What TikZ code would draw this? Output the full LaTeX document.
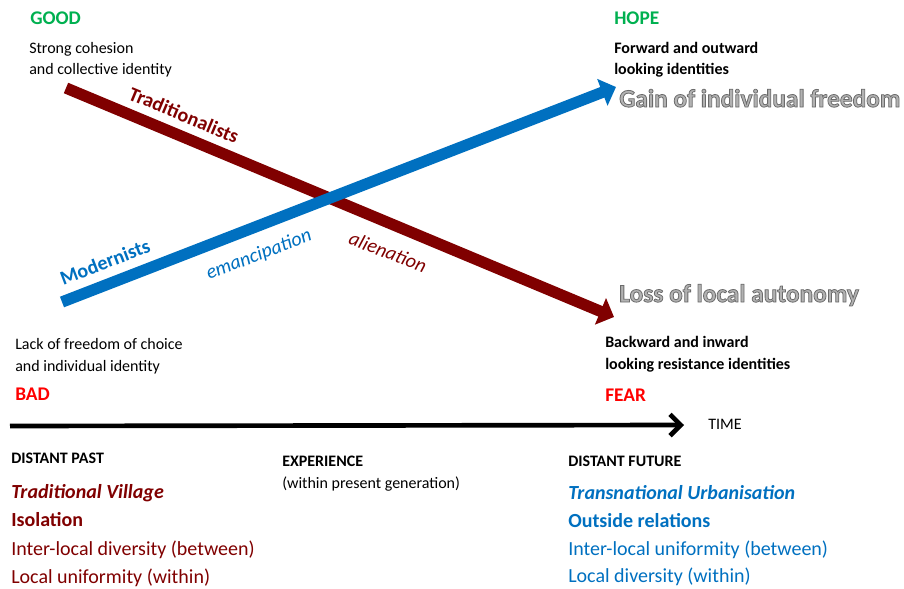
\documentclass[tikz,border=0pt]{standalone}
\usepackage{fontspec}
\setmainfont{Carlito}
\usetikzlibrary{arrows.meta}

\definecolor{darkred}{RGB}{128,0,0}
\definecolor{modblue}{RGB}{0,112,192}
\definecolor{goodgreen}{RGB}{0,176,80}
\definecolor{fearred}{RGB}{255,0,0}
\definecolor{facegray}{RGB}{178,178,178}

% grey lettering, filled and stroked with a darker rim
\newcommand{\outlined}[1]{%
	{\color{facegray}\special{pdf:literal direct 0.42 G 2 Tr 0.6 w}#1\special{pdf:literal direct 0 Tr}}}

\begin{document}
\begin{tikzpicture}[
		x=0.75pt, y=-0.75pt,
		txt/.style={anchor=base west, inner sep=0pt, font=\fontsize{12}{14}\selectfont},
		boldtxt/.style={txt, font=\fontsize{12}{14}\selectfont\bfseries},
		mood/.style={anchor=base west, inner sep=0pt, font=\fontsize{14.5}{17}\selectfont\bfseries},
		outcome/.style={anchor=base west, inner sep=0pt, font=\fontsize{19}{22}\selectfont\bfseries},
		era/.style={anchor=base west, inner sep=0pt, font=\fontsize{15}{18}\selectfont},
		trend/.style={line width=8.5pt, -{Triangle[length=11pt, width=21pt]}},
		tag/.style={inner sep=0pt, font=\fontsize{15}{18}\selectfont}
		]
		\useasboundingbox (0,0) rectangle (904,589);
		
		% Upper left and upper right
		\node (good) [mood, text=goodgreen] at (30,24) {GOOD};
		\node (good1) [txt] at (29,53) {Strong cohesion};
		\node (good2) [txt] at (29,74) {and collective identity};
		\node (hope) [mood, text=goodgreen] at (614,25) {HOPE};
		\node (hope1) [boldtxt] at (614,53) {Forward and outward};
		\node (hope2) [boldtxt] at (614,74) {looking identities};
		\node (gain) [outcome] at (619,107) {\outlined{Gain of individual freedom}};
		
		% Lower left and lower right
		\node (loss) [outcome] at (619,302) {\outlined{Loss of local autonomy}};
		\node (fear1) [boldtxt] at (605,347) {Backward and inward};
		\node (fear2) [boldtxt] at (605,369) {looking resistance identities};
		\node (fear) [mood, text=fearred] at (605,401) {FEAR};
		\node (bad1) [txt] at (15,349) {Lack of freedom of choice};
		\node (bad2) [txt] at (15,371) {and individual identity};
		\node (bad) [mood, text=fearred] at (15,400) {BAD};
		
		% Crossing trends
		\coordinate (tstart) at (66,88);
		\coordinate (tend) at (614,317);
		\coordinate (mstart) at (62,302);
		\coordinate (mend) at (616,87);
		\draw [trend, darkred] (tstart) -- (tend);
		\draw [trend, modblue] (mstart) -- (mend);
		\node (trad) [tag, text=darkred, font=\fontsize{15}{18}\selectfont\bfseries, rotate=-22.6] at (184,115) {Traditionalists};
		\node (alien) [tag, text=darkred, font=\fontsize{15}{18}\selectfont\itshape, rotate=-21] at (388,252) {alienation};
		\node (mod) [tag, text=modblue, font=\fontsize{15}{18}\selectfont\bfseries, rotate=21] at (105,262) {Modernists};
		\node (eman) [tag, text=modblue, font=\fontsize{15}{18}\selectfont\itshape, rotate=21] at (259,255) {emancipation};
		
		% Time axis
		\coordinate (t0) at (10,426);
		\coordinate (t1) at (684,425);
		\draw [line width=3.5pt, -{Straight Barb[length=8pt, width=16pt]}] (t0) -- (t1);
		\node (time) [txt] at (708,429) {TIME};
		
		% Columns below the axis
		\node (past) [boldtxt] at (11,463) {DISTANT PAST};
		\node (past1) [era, text=darkred, font=\fontsize{15}{18}\selectfont\bfseries\itshape] at (11,498) {Traditional Village};
		\node (past2) [era, text=darkred, font=\fontsize{15}{18}\selectfont\bfseries] at (11,526) {Isolation};
		\node (past3) [era, text=darkred] at (11,555) {Inter-local diversity (between)};
		\node (past4) [era, text=darkred] at (11,583) {Local uniformity (within)};
		\node (exp) [boldtxt] at (282,466) {EXPERIENCE};
		\node (exp1) [txt] at (282,488) {(within present generation)};
		\node (fut) [boldtxt] at (568,466) {DISTANT FUTURE};
		\node (fut1) [era, text=modblue, font=\fontsize{15}{18}\selectfont\bfseries\itshape] at (568,499) {Transnational Urbanisation};
		\node (fut2) [era, text=modblue, font=\fontsize{15}{18}\selectfont\bfseries] at (568,527) {Outside relations};
		\node (fut3) [era, text=modblue] at (568,555) {Inter-local uniformity (between)};
		\node (fut4) [era, text=modblue] at (568,582) {Local diversity (within)};
		
	\end{tikzpicture}
\end{document}
